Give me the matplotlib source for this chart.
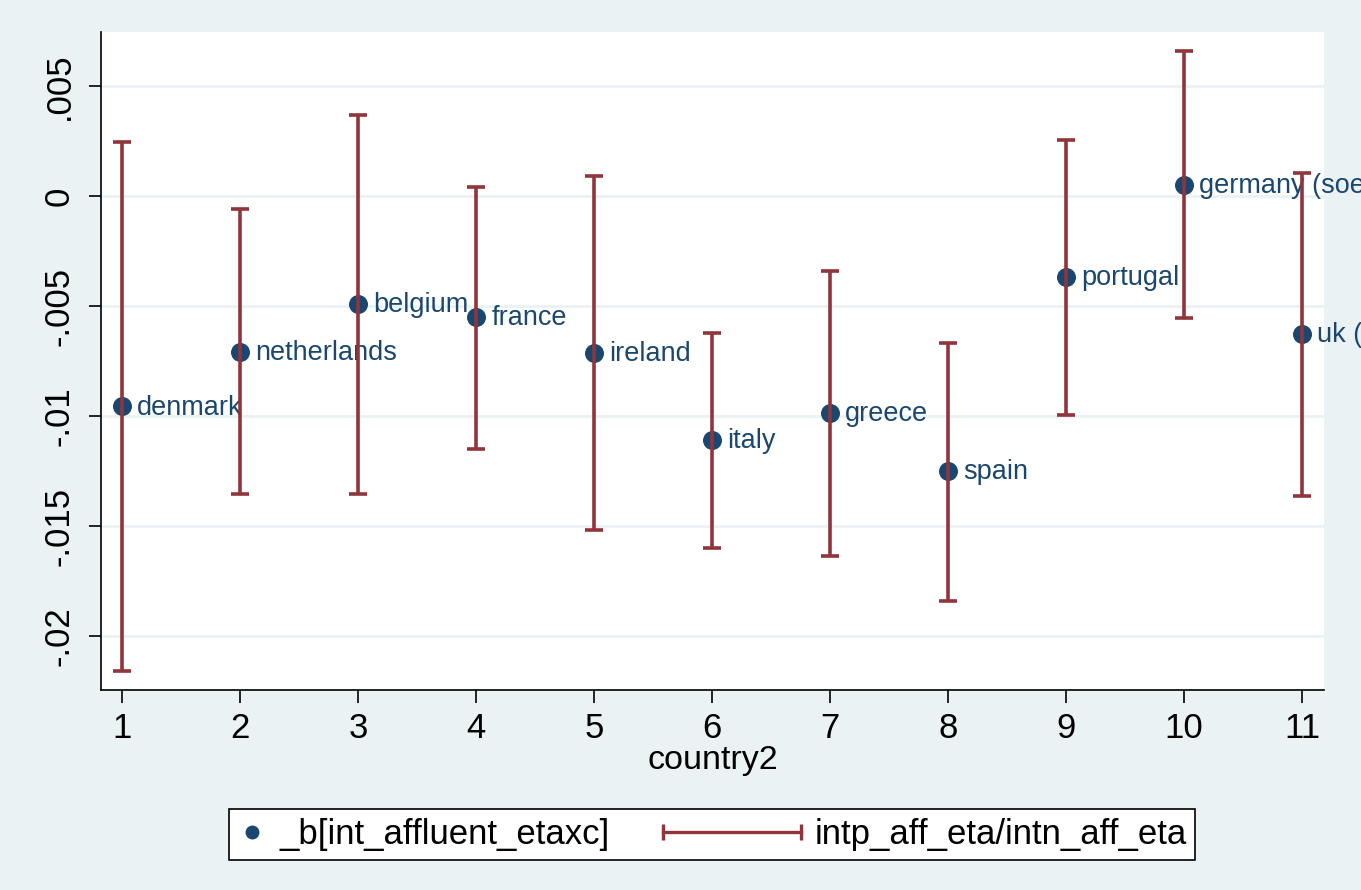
import matplotlib.pyplot as plt
from matplotlib.lines import Line2D
from matplotlib.legend_handler import HandlerBase, HandlerLine2D

plt.rcParams['font.family'] = ['Liberation Sans', 'DejaVu Sans']

# data
country_id = [1, 2, 3, 4, 5, 6, 7, 8, 9, 10, 11]
country_names = ['denmark', 'netherlands', 'belgium', 'france', 'ireland', 'italy',
                 'greece', 'spain', 'portugal', 'germany (soep)', 'uk (bhps)']
coef = [-0.00955, -0.00709, -0.00491, -0.0055, -0.00714, -0.01109,
        -0.00986, -0.0125, -0.00368, 0.0005, -0.00627]
upper = [0.00245, -0.00059, 0.00368, 0.00041, 0.00091, -0.00623,
         -0.00341, -0.00668, 0.00255, 0.00659, 0.00105]
lower = [-0.0216, -0.01355, -0.01355, -0.0115, -0.01518, -0.016,
         -0.01636, -0.01841, -0.00995, -0.00555, -0.01364]

ytick_vals = [0.005, 0, -0.005, -0.01, -0.015, -0.02]
ytick_labels = ['.005', '0', '-.005', '-.01', '-.015', '-.02']

navy = '#1A476F'
maroon = '#90353B'
bg = '#EAF2F3'

fig = plt.figure(figsize=(13.61, 8.90), dpi=100, facecolor=bg)
ax = fig.add_axes([0.0742, 0.2247, 0.8986, 0.7393])

yerr = [[c - l for c, l in zip(coef, lower)], [u - c for c, u in zip(coef, upper)]]
ax.scatter(country_id, coef, s=160, color=navy, zorder=2)
ax.errorbar(country_id, coef, yerr=yerr, fmt='none', ecolor=maroon,
            elinewidth=2.6, capsize=6.5, capthick=2.6, zorder=3)

for xi, yi, name in zip(country_id, coef, country_names):
    ax.annotate(name, (xi, yi), xytext=(11, -1), textcoords='offset points',
                ha='left', va='center', fontsize=19.5, color=navy,
                annotation_clip=False, zorder=2.5)

ax.set_xlim(0.822, 11.186)
ax.set_ylim(-0.02245, 0.00745)
ax.set_xticks(country_id)
ax.set_yticks(ytick_vals)
ax.set_yticklabels(ytick_labels, rotation=90, va='center')
ax.yaxis.grid(True, color=bg, lw=2)
ax.set_axisbelow(True)
for s in ['top', 'right']:
    ax.spines[s].set_visible(False)
for s in ['left', 'bottom']:
    ax.spines[s].set_linewidth(1.2)
ax.tick_params(axis='both', length=9, width=1.2, labelsize=25)
ax.tick_params(axis='x', pad=7)
ax.tick_params(axis='y', pad=9)
ax.set_xlabel('country2', fontsize=24.5, labelpad=0)


class WideCap(HandlerBase):
    def __init__(self, extra):
        super().__init__()
        self.extra = extra

    def create_artists(self, legend, orig_handle, xdescent, ydescent,
                       width, height, fontsize, trans):
        y = height / 2 - ydescent
        x0 = -xdescent - self.extra * fontsize
        x1 = -xdescent + width
        ln = Line2D([x0, x1], [y, y], color=maroon, lw=2.4,
                    marker='|', markersize=12, markeredgewidth=2.4)
        ln.set_transform(trans)
        return [ln]


h_pt = Line2D([], [], marker='o', color=navy, linestyle='none', markersize=9)
h_ci = Line2D([], [], color=maroon)
leg = fig.legend([h_pt, h_ci], ['_b[int_affluent_etaxc]', 'intp_aff_eta/intn_aff_eta'],
                 loc='upper center', bbox_to_anchor=(0.5233, 0.11), ncol=2,
                 fontsize=25, handlelength=0.8, handletextpad=0.4,
                 columnspacing=4.7, borderpad=0.25, fancybox=False,
                 framealpha=1, edgecolor='black',
                 handler_map={h_pt: HandlerLine2D(numpoints=1), h_ci: WideCap(3.17)})
leg.get_frame().set_linewidth(1.2)

fig.savefig('out.png', dpi=100, facecolor=bg)
